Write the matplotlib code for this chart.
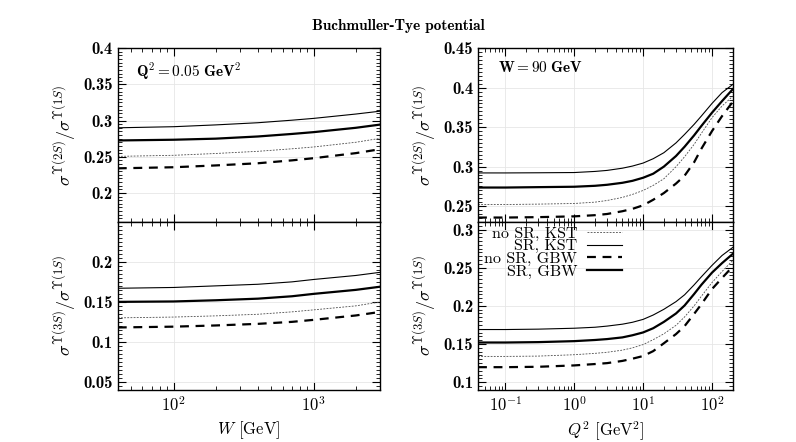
import matplotlib
matplotlib.use("Agg")
import matplotlib.pyplot as plt
from matplotlib.ticker import MultipleLocator, LogLocator, NullFormatter, FormatStrFormatter

plt.rcParams['font.family'] = 'serif'
plt.rcParams['font.serif'] = ['cmr10']
plt.rcParams['mathtext.fontset'] = 'cm'
plt.rcParams['axes.formatter.use_mathtext'] = True
plt.rcParams['axes.unicode_minus'] = False

# W scan at Q^2 = 0.05 GeV^2
W = [40, 100, 200, 400, 700, 1000, 2000, 3000]
w2_sr_kst = [0.290, 0.2915, 0.294, 0.297, 0.3005, 0.303, 0.309, 0.313]
w2_sr_gbw = [0.2725, 0.2735, 0.275, 0.278, 0.2815, 0.284, 0.290, 0.2945]
w2_nosr_kst = [0.2505, 0.252, 0.2545, 0.2575, 0.261, 0.2635, 0.270, 0.2755]
w2_nosr_gbw = [0.234, 0.2355, 0.238, 0.241, 0.245, 0.248, 0.255, 0.2605]
w3_sr_kst = [0.167, 0.168, 0.170, 0.172, 0.175, 0.178, 0.183, 0.187]
w3_sr_gbw = [0.150, 0.1505, 0.152, 0.154, 0.157, 0.160, 0.165, 0.169]
w3_nosr_kst = [0.130, 0.131, 0.1325, 0.1345, 0.1375, 0.140, 0.145, 0.150]
w3_nosr_gbw = [0.118, 0.119, 0.1205, 0.1225, 0.125, 0.1275, 0.133, 0.1375]

# Q^2 scan at W = 90 GeV
Q2 = [0.04, 0.1, 0.3, 1, 2, 3, 5, 7, 10, 14, 20, 30, 40, 55, 70, 100, 140, 200]
q2_sr_kst = [0.292, 0.292, 0.2922, 0.2925, 0.2939, 0.2952, 0.298, 0.3007, 0.3045, 0.310,
             0.3176, 0.330, 0.3408, 0.3535, 0.364, 0.380, 0.3937, 0.404]
q2_sr_gbw = [0.2735, 0.2735, 0.274, 0.2745, 0.2757, 0.277, 0.2795, 0.282, 0.2859, 0.291,
             0.300, 0.3134, 0.3252, 0.3396, 0.3514, 0.3683, 0.383, 0.398]
q2_nosr_kst = [0.252, 0.252, 0.2525, 0.2533, 0.255, 0.2571, 0.261, 0.2648, 0.2698, 0.2762,
               0.2846, 0.2998, 0.3125, 0.3282, 0.342, 0.362, 0.3768, 0.389]
q2_nosr_gbw = [0.2355, 0.2355, 0.236, 0.237, 0.2385, 0.240, 0.2435, 0.2465, 0.251, 0.258,
               0.2665, 0.2785, 0.2885, 0.3055, 0.3225, 0.345, 0.364, 0.382]
q3_sr_kst = [0.169, 0.169, 0.1695, 0.1707, 0.172, 0.1735, 0.176, 0.1785, 0.1823, 0.188,
             0.1955, 0.2055, 0.2145, 0.2275, 0.238, 0.253, 0.266, 0.2765]
q3_sr_gbw = [0.152, 0.152, 0.1525, 0.1538, 0.1553, 0.1565, 0.1587, 0.1615, 0.1652, 0.1707,
             0.179, 0.190, 0.2005, 0.2155, 0.2275, 0.2435, 0.256, 0.268]
q3_nosr_kst = [0.1338, 0.1338, 0.1342, 0.136, 0.1378, 0.1392, 0.142, 0.145, 0.1493, 0.1557,
               0.1634, 0.1745, 0.1855, 0.200, 0.2125, 0.2305, 0.245, 0.2595]
q3_nosr_gbw = [0.1197, 0.1197, 0.1202, 0.122, 0.1238, 0.125, 0.1279, 0.1308, 0.1343, 0.1407,
               0.151, 0.163, 0.1735, 0.1895, 0.202, 0.222, 0.2365, 0.2515]

labels = ['no SR, KST', 'SR, KST', 'no SR, GBW', 'SR, GBW']
styles = [dict(lw=0.6, color='0.3', dashes=(2.2, 1.6)),
          dict(lw=0.8, color='k'),
          dict(lw=1.6, color='k', dashes=(4, 3)),
          dict(lw=1.6, color='k')]

fig = plt.figure(figsize=(7.96, 4.42), dpi=100)
ax_lt = fig.add_axes([0.148, 0.498, 0.330, 0.393])
ax_lb = fig.add_axes([0.148, 0.118, 0.330, 0.380])
ax_rt = fig.add_axes([0.6005, 0.498, 0.320, 0.393])
ax_rb = fig.add_axes([0.6005, 0.118, 0.320, 0.380])

ylab2 = r'$\sigma^{\Upsilon(2S)}/\sigma^{\Upsilon(1S)}$'
ylab3 = r'$\sigma^{\Upsilon(3S)}/\sigma^{\Upsilon(1S)}$'

def draw(ax, x, ys):
    for y, lab, st in zip(ys, labels, styles):
        ax.plot(x, y, label=lab, **st)
    ax.set_xscale('log')
    ax.grid(True, which='major', color='0.9', lw=0.6)
    ax.set_axisbelow(True)
    ax.yaxis.set_minor_locator(MultipleLocator(0.005))
    ax.xaxis.set_minor_locator(LogLocator(base=10, subs=range(2, 10), numticks=20))
    ax.xaxis.set_minor_formatter(NullFormatter())
    ax.yaxis.set_major_formatter(FormatStrFormatter('%g'))
    ax.tick_params(which='both', direction='in', top=True, right=True, labelsize=12)
    ax.tick_params(which='major', length=6, width=0.8)
    ax.tick_params(which='minor', length=3, width=0.6)
    ax.tick_params(axis='y', labelfontfamily='cmb10')
    for s in ax.spines.values():
        s.set_linewidth(1.0)

draw(ax_lt, W, [w2_nosr_kst, w2_sr_kst, w2_nosr_gbw, w2_sr_gbw])
draw(ax_lb, W, [w3_nosr_kst, w3_sr_kst, w3_nosr_gbw, w3_sr_gbw])
draw(ax_rt, Q2, [q2_nosr_kst, q2_sr_kst, q2_nosr_gbw, q2_sr_gbw])
draw(ax_rb, Q2, [q3_nosr_kst, q3_sr_kst, q3_nosr_gbw, q3_sr_gbw])

for ax in (ax_lt, ax_lb):
    ax.set_xlim(40, 3000)
for ax in (ax_rt, ax_rb):
    ax.set_xlim(0.04, 200)
ax_lt.set_ylim(0.16, 0.4)
ax_lb.set_ylim(0.04, 0.25)
ax_rt.set_ylim(0.23, 0.45)
ax_rb.set_ylim(0.09, 0.31)
ax_lt.set_yticks([0.2, 0.25, 0.3, 0.35, 0.4])
ax_lb.set_yticks([0.05, 0.1, 0.15, 0.2])
ax_rt.set_yticks([0.25, 0.3, 0.35, 0.4, 0.45])
ax_rb.set_yticks([0.1, 0.15, 0.2, 0.25, 0.3])
ax_lt.tick_params(labelbottom=False)
ax_rt.tick_params(labelbottom=False)

ax_lt.set_ylabel(ylab2, fontsize=13)
ax_lb.set_ylabel(ylab3, fontsize=13)
ax_rt.set_ylabel(ylab2, fontsize=13)
ax_rb.set_ylabel(ylab3, fontsize=13)
ax_lb.set_xlabel(r'$W$ [GeV]', fontsize=12)
ax_rb.set_xlabel(r'$Q^2$ [GeV$^2$]', fontsize=12)

ax_lt.text(0.07, 0.93, r'$\mathbf{Q^2 = 0.05\ GeV^2}$', transform=ax_lt.transAxes,
           fontsize=11, va='top')
ax_rt.text(0.08, 0.93, r'$\mathbf{W = 90\ GeV}$', transform=ax_rt.transAxes,
           fontsize=11, va='top')

ax_rb.legend(loc='upper right', bbox_to_anchor=(0.565, 0.972), frameon=False,
             markerfirst=False, fontsize=11.5, labelspacing=-0.1,
             handlelength=2.2, handletextpad=0.6, borderpad=0.0, borderaxespad=0.0)

fig.text(0.5, 0.932, 'Buchmuller-Tye potential', ha='center', fontsize=11,
         family='cmb10')

fig.savefig('out.png', dpi=100)
